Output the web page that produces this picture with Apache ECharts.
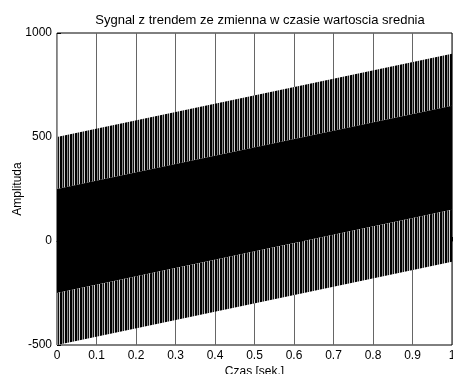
<!DOCTYPE html>
<html>
<head>
<meta charset="utf-8">
<script src="https://cdn.jsdelivr.net/npm/echarts@6/dist/echarts.min.js"></script>
<style>
	html, body { margin: 0; padding: 0; background: #fff; }
	#chart { width: 453px; height: 374px; }
</style>
</head>
<body>
<div id="chart"></div>
<script>
// Envelope of the signal (time in s, amplitude)
const time = [0, 1];
const outerUpper = [500, 900];
const innerUpper = [250, 650];
const innerLower = [-250, 150];
const outerLower = [-500, -100];
const xTicks = ['0', '0.1', '0.2', '0.3', '0.4', '0.5', '0.6', '0.7', '0.8', '0.9', '1'];

// striped fill for the sparse parts of the oscillation
function stripes() {
	const c = document.createElement('canvas');
	c.width = 5;
	c.height = 4;
	const ctx = c.getContext('2d');
	const cols = ['#000', '#000', '#8a8a8a', '#111', '#cfcfcf'];
	cols.forEach((col, i) => {
		ctx.fillStyle = col;
		ctx.fillRect(i, 0, 1, 4);
	});
	return { image: c, repeat: 'repeat' };
}
const stripeFill = stripes();

const rows = time.map((t, i) => [t, outerUpper[i], innerUpper[i], innerLower[i], outerLower[i]]);

const chart = echarts.init(document.getElementById('chart'), null, { renderer: 'canvas' });
const font = 'Liberation Sans, Arial, sans-serif';

function renderBand(params, api) {
	const i = params.dataIndexInside;
	if (i >= params.dataInsideLength - 1) return;
	const quad = (top, bottom) => [
		api.coord([api.value(0, i), api.value(top, i)]),
		api.coord([api.value(0, i + 1), api.value(top, i + 1)]),
		api.coord([api.value(0, i + 1), api.value(bottom, i + 1)]),
		api.coord([api.value(0, i), api.value(bottom, i)])
	];
	return {
		type: 'group',
		children: [
			{ type: 'polygon', shape: { points: quad(1, 2) }, style: { fill: stripeFill } },
			{ type: 'polygon', shape: { points: quad(2, 3) }, style: { fill: '#000' } },
			{ type: 'polygon', shape: { points: quad(3, 4) }, style: { fill: stripeFill } }
		]
	};
}

chart.setOption({
	animation: false,
	title: {
		text: 'Sygnal z trendem ze zmienna w czasie wartoscia srednia',
		left: 255,
		textAlign: 'center',
		top: 9,
		textStyle: { fontFamily: font, fontSize: 13, fontWeight: 'normal', color: '#000' }
	},
	grid: {
		left: 57, right: 1, top: 33, bottom: 29,
		containLabel: false,
		outerBoundsMode: 'none',
		show: true, borderColor: '#000', borderWidth: 1
	},
	xAxis: {
		type: 'value',
		min: 0, max: 1, interval: 0.1,
		name: 'Czas [sek.]',
		nameLocation: 'middle',
		nameGap: 21,
		nameMoveOverlap: false,
		nameTextStyle: { fontFamily: font, fontSize: 12, color: '#000' },
		axisLine: { lineStyle: { color: '#000' } },
		axisTick: { inside: true, length: 4, lineStyle: { color: '#000' } },
		axisLabel: {
			fontFamily: font, fontSize: 12, color: '#000', margin: 5,
			formatter: (v) => xTicks[Math.round(v * 10)]
		},
		splitLine: { show: true, lineStyle: { color: '#666', width: 1 } }
	},
	yAxis: {
		type: 'value',
		min: -500, max: 1000, interval: 500,
		name: 'Amplituda',
		nameLocation: 'middle',
		nameGap: 33,
		nameMoveOverlap: false,
		nameTextStyle: { fontFamily: font, fontSize: 12, color: '#000' },
		axisLine: { show: true, lineStyle: { color: '#999' } },
		axisTick: { show: true, inside: true, length: 4, lineStyle: { color: '#000' } },
		axisLabel: { fontFamily: font, fontSize: 12, color: '#000', margin: 5, formatter: (v) => String(v) },
		splitLine: { show: false }
	},
	series: [{
		type: 'custom',
		renderItem: renderBand,
		data: rows,
		encode: { x: 0, y: [1, 2, 3, 4] },
		silent: true,
		clip: true
	}]
});
</script>
</body>
</html>
